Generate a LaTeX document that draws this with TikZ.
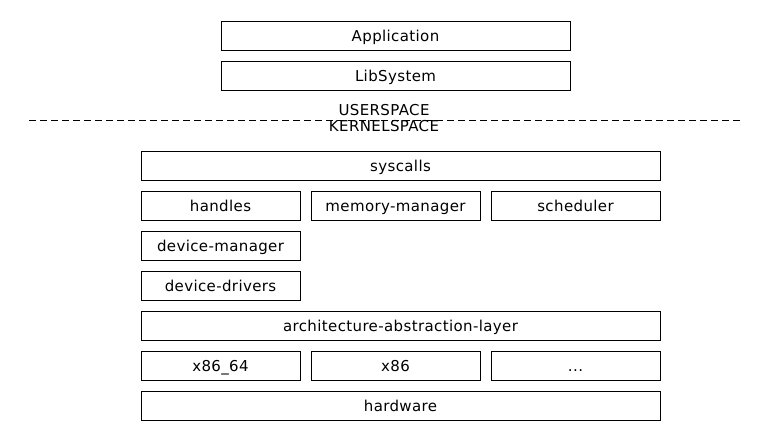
\documentclass[tikz,border=0pt]{standalone}
\usepackage{fontspec}
\setmainfont[LetterSpace=2.5]{DejaVu Sans}
\begin{document}
\begin{tikzpicture}[x=1pt,y=-1pt,
  txt/.style={font=\fontsize{15}{17}\selectfont},
  box/.style={txt,draw=black,line width=1pt,fill=white,anchor=north west,inner sep=0pt,
    minimum height=29pt,text height=11pt,text depth=0pt},
  wide/.style={box,minimum width=519pt},
  narrow/.style={box,minimum width=159pt},
  mid/.style={box,minimum width=169pt},
  top/.style={box,minimum width=349pt},
  lbl/.style={txt,inner sep=0pt,anchor=base}]
\useasboundingbox[fill=white] (0,0) rectangle (780,440);
\node[top] (app) at (220.5,20.5) {Application};
\node[top] (lib) at (220.5,60.5) {LibSystem};
\coordinate (dl) at (29,120);
\coordinate (dr) at (742,120);
\draw[line width=1pt,dash pattern=on 7pt off 4pt] (dl) -- (dr);
\node[lbl] (us) at (384,115) {USERSPACE};
\node[lbl] (ks) at (384,131) {KERNELSPACE};
\node[wide] (sys) at (140.5,150.5) {syscalls};
\node[narrow] (hdl) at (140.5,190.5) {handles};
\node[mid] (mm) at (310.5,190.5) {memory-manager};
\node[mid] (sch) at (490.5,190.5) {scheduler};
\node[narrow] (dm) at (140.5,230.5) {device-manager};
\node[narrow] (dd) at (140.5,270.5) {device-drivers};
\node[wide] (aal) at (140.5,310.5) {architecture-abstraction-layer};
\node[narrow] (x64) at (140.5,350.5) {x86\_64};
\node[mid] (x86) at (310.5,350.5) {x86};
\node[mid] (etc) at (490.5,350.5) {...};
\node[wide] (hw) at (140.5,390.5) {hardware};
\end{tikzpicture}
\end{document}
